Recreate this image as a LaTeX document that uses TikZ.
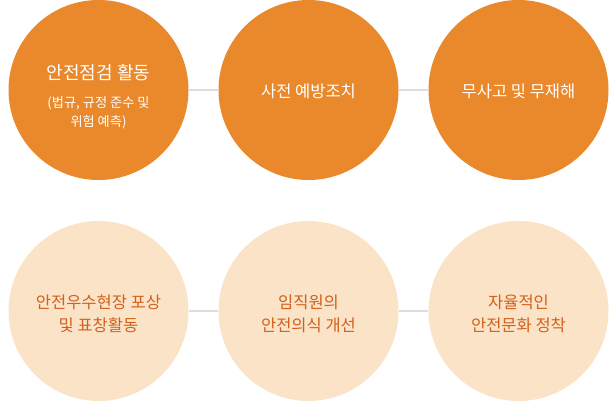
\documentclass[tikz,border=0pt]{standalone}
\usepackage{fontspec}
\setmainfont{Noto Sans CJK KR}
\definecolor{topfill}{HTML}{EA882C}
\definecolor{botfill}{HTML}{FBE3C8}
\definecolor{bottext}{HTML}{D2601A}
\definecolor{linkgray}{HTML}{DDDDDD}
\tikzset{
  circbase/.style={circle, minimum size=180pt, inner sep=0pt},
  topcirc/.style={circbase, fill=topfill},
  botcirc/.style={circbase, fill=botfill},
  toptext/.style={text=white, align=center, font=\fontsize{16.5}{23}\selectfont},
  bottxt/.style={text=bottext, align=center, font=\fontsize{16.5}{23}\selectfont},
  link/.style={draw=linkgray, line width=2.5pt}
}
\begin{document}
\begin{tikzpicture}[x=1pt,y=1pt]
\useasboundingbox (0,0) rectangle (615,401);
\node[topcirc] (t1) at (98.5,311) {};
\node[topcirc] (t2) at (308.5,311) {};
\node[topcirc] (t3) at (518.5,311) {};
\node[botcirc] (b1) at (98.5,90) {};
\node[botcirc] (b2) at (308.5,90) {};
\node[botcirc] (b3) at (518.5,90) {};
\node[toptext, font=\fontsize{18}{22}\selectfont] (t1a) at (98.5,328) {안전점검 활동};
\node[toptext, font=\fontsize{13.2}{19.5}\selectfont] (t1b) at (98.5,288) {(법규, 규정 준수 및\\위험 예측)};
\node[toptext] (t2a) at (308.5,310) {사전 예방조치};
\node[toptext] (t3a) at (518.5,310) {무사고 및 무재해};
\node[bottxt] (b1a) at (98.5,87) {안전우수현장 포상\\및 표창활동};
\node[bottxt] (b2a) at (308.5,87) {임직원의\\안전의식 개선};
\node[bottxt] (b3a) at (518.5,87) {자율적인\\안전문화 정착};
\draw[link] (t1.east) -- (t2.west);
\draw[link] (t2.east) -- (t3.west);
\draw[link] (b1.east) -- (b2.west);
\draw[link] (b2.east) -- (b3.west);
\end{tikzpicture}
\end{document}
